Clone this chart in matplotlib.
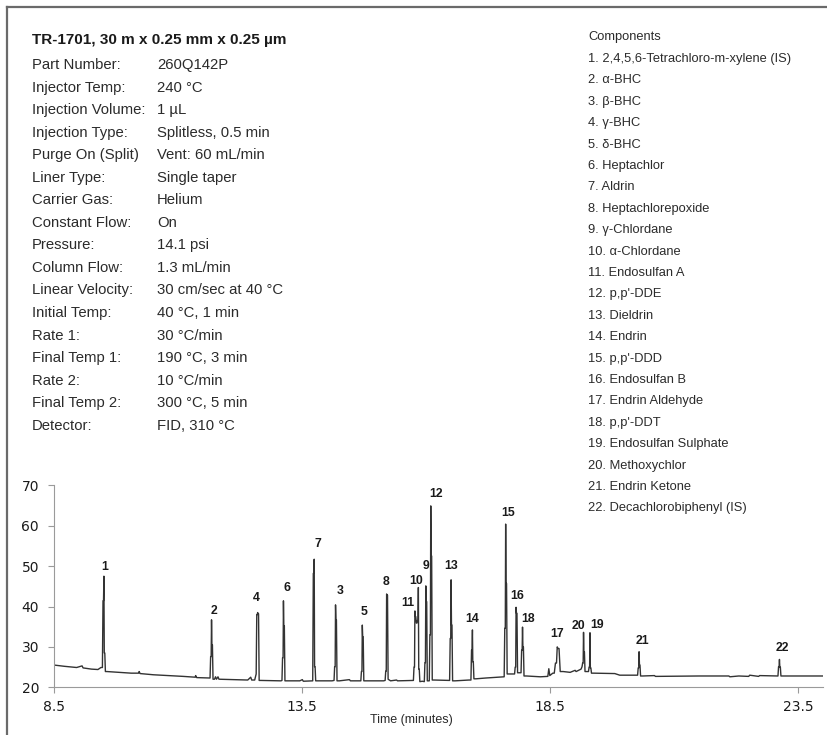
import numpy as np
import matplotlib
matplotlib.use("Agg")
import matplotlib.pyplot as plt
from matplotlib import font_manager

# ---- data ----
peak_label = [1, 2, 4, 6, 7, 3, 5, 8, 11, 10, 9, 12, 13, 14, 15, 16, 18, 17, 20, 19, 21, 22]
peak_time = [9.50, 11.67, 12.60, 13.12, 13.74, 14.17, 14.71, 15.20, 15.77, 15.84, 15.99,
             16.09, 16.50, 16.93, 17.60, 17.81, 17.94, 18.64, 19.17, 19.30, 20.29, 23.12]
peak_top = [47.5, 36.7, 38.5, 41.4, 51.7, 40.4, 35.4, 43.1, 38.9, 44.7, 45.1,
            64.9, 46.6, 34.2, 60.4, 39.8, 34.9, 30.0, 33.6, 33.5, 28.8, 26.9]
peak_left = [41.4, 27.6, 38.0, 27.3, 48.2, 25.1, 23.9, 24.0, 25.0, 36.5, 26.1,
             33.0, 32.1, 29.2, 34.6, 25.0, 29.2, 26.0, 26.0, 25.0, 24.8, 25.1]
peak_right = [28.5, 30.5, 38.2, 35.2, 25.1, 36.7, 32.5, 42.8, 37.5, 24.5, 41.2,
              52.5, 35.4, 26.3, 45.7, 38.3, 30.0, 29.6, 28.8, 24.8, 25.5, 25.0]
peak_base_l = [24.9, 22.3, 23.3, 21.7, 21.6, 21.7, 21.6, 21.7, 21.7, 35.9, 21.4,
               21.6, 21.7, 21.8, 22.6, 23.3, 23.6, 23.5, 25.1, 23.9, 23.0, 22.8]
peak_base_r = [23.9, 22.0, 21.7, 21.6, 21.6, 21.6, 21.6, 22.0, 35.9, 21.4, 21.6,
               21.8, 21.6, 22.1, 23.3, 23.6, 22.8, 23.9, 23.9, 23.5, 22.8, 22.8]
peak_width = [0.03, 0.03, 0.03, 0.03, 0.03, 0.03, 0.03, 0.03, 0.03, 0.03, 0.03,
              0.03, 0.03, 0.03, 0.03, 0.03, 0.03, 0.06, 0.03, 0.03, 0.03, 0.03]

base_time = [8.50, 8.70, 8.95, 9.06, 9.08, 9.25, 9.38, 9.44,
             9.56, 9.80, 10.05, 10.20, 10.21, 10.23, 10.50, 10.80, 11.10, 11.34, 11.35, 11.37, 11.60,
             11.73, 11.75, 11.77, 11.80, 11.82, 12.10, 12.40, 12.46, 12.48, 12.54,
             12.66, 13.00, 13.07, 13.17, 13.45, 13.50, 13.52, 13.68,
             13.80, 14.10, 14.25, 14.45, 14.47, 14.66, 14.78, 15.14, 15.28, 15.40, 15.42, 15.72,
             15.92, 16.16, 16.44, 16.58, 16.86, 17.00, 17.20, 17.45, 17.55,
             17.70, 17.76, 17.875, 18.02, 18.30, 18.45, 18.47, 18.49, 18.55,
             18.76, 18.90, 19.00, 19.02, 19.12, 19.235, 19.38, 19.80, 19.90, 20.24,
             20.36, 20.60, 20.62, 21.50, 22.10, 22.12, 22.30, 22.50, 22.52, 22.70, 22.72, 23.05,
             23.20, 24.00]
base_val = [25.5, 25.2, 24.9, 25.3, 24.8, 24.5, 24.4, 24.9,
            23.9, 23.7, 23.5, 23.5, 23.9, 23.4, 23.1, 22.9, 22.7, 22.5, 22.9, 22.4, 22.3,
            22.0, 22.6, 22.0, 22.6, 22.0, 21.9, 21.8, 22.5, 21.8, 21.8,
            21.7, 21.6, 21.6, 21.6, 21.6, 21.9, 21.5, 21.6,
            21.6, 21.6, 21.6, 21.9, 21.6, 21.6, 21.6, 21.6, 21.6, 21.8, 21.6, 21.7,
            21.5, 21.8, 21.7, 21.6, 21.8, 22.1, 22.3, 22.5, 22.6,
            23.3, 23.3, 23.6, 22.8, 22.6, 22.7, 24.6, 22.9, 23.5,
            23.9, 23.7, 24.2, 23.9, 24.5, 23.9, 23.5, 23.4, 23.0, 23.0,
            22.8, 22.9, 22.7, 22.8, 22.8, 22.6, 22.8, 22.7, 23.0, 22.7, 22.9, 22.8,
            22.8, 22.8]

title = "TR-1701, 30 m x 0.25 mm x 0.25 µm"
param_names = ["Part Number:", "Injector Temp:", "Injection Volume:", "Injection Type:",
               "Purge On (Split)", "Liner Type:", "Carrier Gas:", "Constant Flow:", "Pressure:",
               "Column Flow:", "Linear Velocity:", "Initial Temp:", "Rate 1:", "Final Temp 1:",
               "Rate 2:", "Final Temp 2:", "Detector:"]
param_values = ["260Q142P", "240 °C", "1 µL", "Splitless, 0.5 min", "Vent: 60 mL/min",
                "Single taper", "Helium", "On", "14.1 psi", "1.3 mL/min", "30 cm/sec at 40 °C",
                "40 °C, 1 min", "30 °C/min", "190 °C, 3 min", "10 °C/min", "300 °C, 5 min",
                "FID, 310 °C"]
components = ["2,4,5,6-Tetrachloro-m-xylene (IS)", "α-BHC", "β-BHC", "γ-BHC", "δ-BHC",
              "Heptachlor", "Aldrin", "Heptachlorepoxide", "γ-Chlordane", "α-Chlordane",
              "Endosulfan A", "p,p'-DDE", "Dieldrin", "Endrin", "p,p'-DDD", "Endosulfan B",
              "Endrin Aldehyde", "p,p'-DDT", "Endosulfan Sulphate", "Methoxychlor",
              "Endrin Ketone", "Decachlorobiphenyl (IS)"]
x_ticks = [8.5, 13.5, 18.5, 23.5]
y_ticks = [20, 30, 40, 50, 60, 70]

# label offsets (time, signal) from the apex of each peak, same order as peak_label
label_off = [(0.02, 2.4), (0.04, 2.3), (-0.03, 3.7), (0.07, 3.1), (0.07, 3.8), (0.09, 3.5),
             (0.04, 3.3), (-0.01, 3.0), (-0.15, 2.0), (-0.05, 1.6), (0.0, 4.9), (0.10, 2.9),
             (0.01, 3.4), (0.0, 2.7), (0.05, 2.7), (0.03, 2.8), (0.12, 2.0), (0.0, 3.1),
             (-0.11, 1.6), (0.14, 1.9), (0.07, 2.7), (0.05, 2.8)]

# ---- build the trace: baseline points plus a few vertices per peak ----
pts = list(zip(base_time, base_val))
for i in range(len(peak_time)):
    t, w = peak_time[i], peak_width[i]
    pts += [(t - w, peak_base_l[i]), (t - w * 0.6, peak_left[i]), (t - w * 0.25, peak_left[i]),
            (t, peak_top[i]), (t + w * 0.25, peak_right[i]), (t + w * 0.6, peak_right[i]),
            (t + w, peak_base_r[i])]
pts.sort()
trace_t = [p[0] for p in pts]
trace_v = [p[1] for p in pts]

names = {f.name for f in font_manager.fontManager.ttflist}
reg = "Liberation Sans" if "Liberation Sans" in names else "DejaVu Sans"
narrow = "Liberation Sans Narrow" if "Liberation Sans Narrow" in names else None

W, H = 827, 735
fig = plt.figure(figsize=(W / 100, H / 100), dpi=100)
txt_col = "#2b2b2b"


def fx(px):
    return px / W


def fy(py):
    return 1 - py / H


# frame round the page
fig.add_artist(plt.Line2D([fx(7), fx(7)], [fy(7), 0], color="#6a6a6a", lw=1.6))
fig.add_artist(plt.Line2D([fx(7), 1], [fy(7), fy(7)], color="#6a6a6a", lw=1.6))

# method block
fig.text(fx(32), fy(40), title, fontsize=11, fontweight="bold", family=[reg, "DejaVu Sans"],
         color="#1a1a1a", va="center")
for i, (n, v) in enumerate(zip(param_names, param_values)):
    y = fy(65 + 22.55 * i)
    fig.text(fx(32), y, n, fontsize=10.7, family=[reg, "DejaVu Sans"], color=txt_col, va="center")
    fig.text(fx(157), y, v, fontsize=10.7, family=[reg, "DejaVu Sans"], color=txt_col, va="center")

# components list
if narrow:
    comp_font = dict(fontsize=11, family=[narrow, "DejaVu Sans"])
else:
    comp_font = dict(fontsize=9.3, family=[reg, "DejaVu Sans"])
fig.text(fx(588), fy(37), "Components", color=txt_col, va="center", **comp_font)
for i, c in enumerate(components):
    fig.text(fx(588), fy(59 + 21.4 * i), f"{i + 1}. {c}", color=txt_col, va="center", **comp_font)

# chromatogram
x0, x1 = 8.5, 24.0
ax = fig.add_axes([fx(54.3), fy(687.3), (x1 - x0) * 49.6 / W, (687.3 - 485.3) / H])
ax.plot(trace_t, trace_v, color="#333333", lw=1.0)
for i, lab in enumerate(peak_label):
    dx, dy = label_off[i]
    ax.text(peak_time[i] + dx, peak_top[i] + dy, str(lab), ha="center", va="center",
            fontsize=8.8, fontweight="bold", family=[reg, "DejaVu Sans"], color="#1a1a1a")

ax.set_xlim(x0, x1)
ax.set_ylim(20, 70)
ax.set_xticks(x_ticks)
ax.set_xticklabels([str(v) for v in x_ticks])
ax.set_yticks(y_ticks)
for s in ["top", "right"]:
    ax.spines[s].set_visible(False)
for s in ["left", "bottom"]:
    ax.spines[s].set_color("#9a9a9a")
    ax.spines[s].set_linewidth(0.8)
ax.tick_params(axis="both", direction="out", length=4, width=0.8, color="#9a9a9a",
               labelsize=10, labelcolor="#1a1a1a")
ax.tick_params(axis="y", pad=7)
ax.tick_params(axis="x", pad=5)
for lbl in ax.get_xticklabels() + ax.get_yticklabels():
    lbl.set_family("DejaVu Sans")
ax.patch.set_alpha(0)

fig.text(fx(411), fy(720), "Time (minutes)", fontsize=9, family=[reg, "DejaVu Sans"],
         color=txt_col, ha="center", va="center")

fig.savefig("out.png", dpi=100)
